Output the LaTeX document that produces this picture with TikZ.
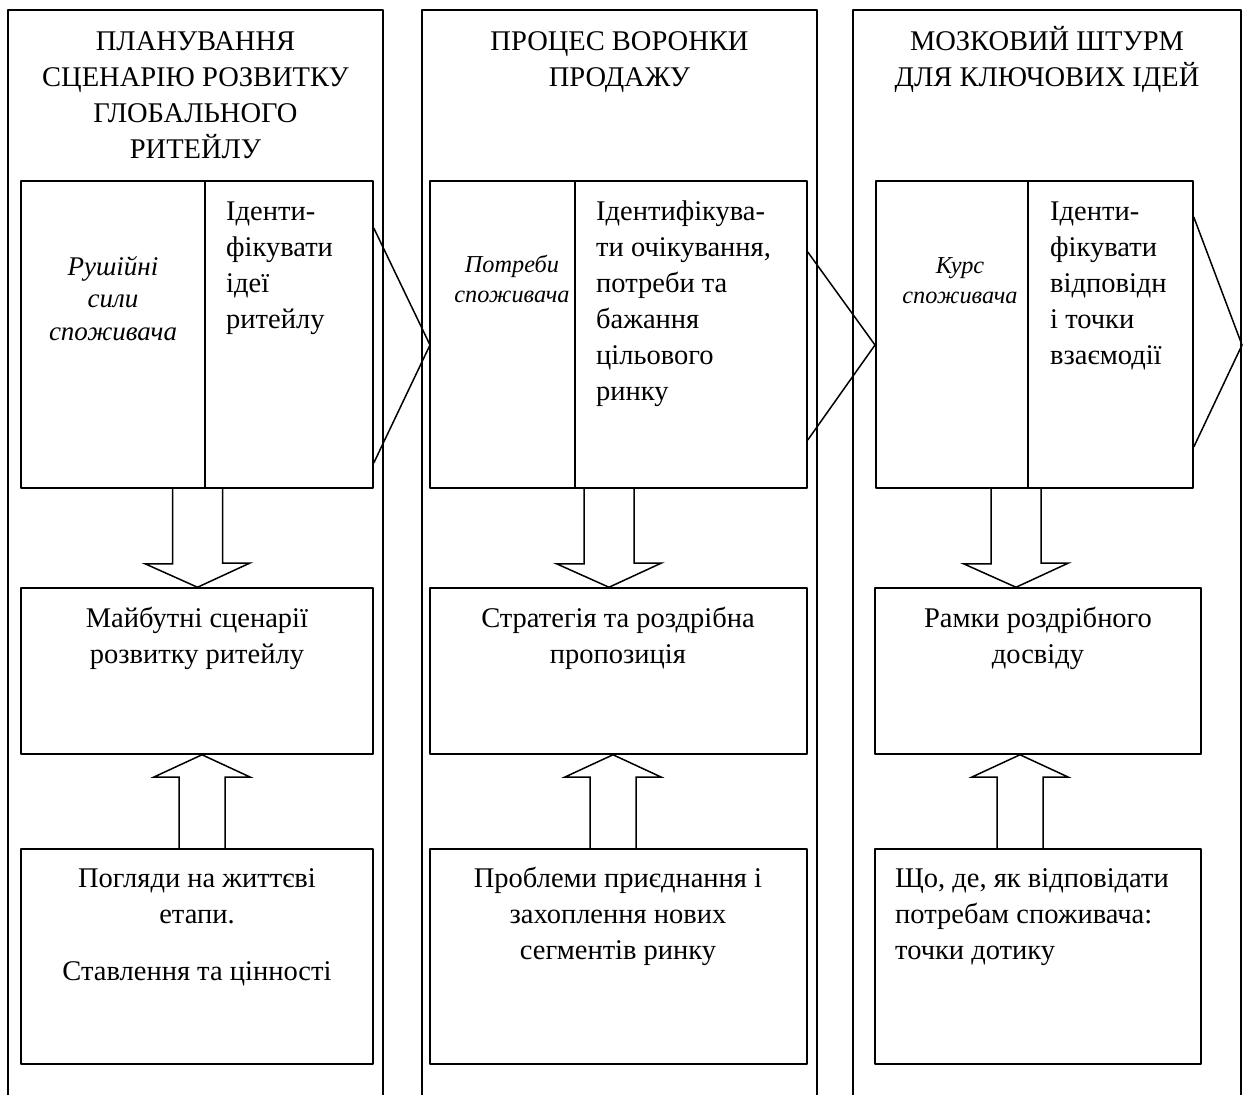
\documentclass[tikz,border=0pt]{standalone}
\usepackage{fontspec}
\setmainfont{Liberation Serif}
\usetikzlibrary{positioning}
\newcommand{\lnstrut}{\rule{0pt}{30pt}}
\tikzset{
	box/.style={draw, line width=1.5pt, inner sep=0pt},
	blk/.style={line width=1.5pt, line join=miter},
	txt/.style={font=\fontsize{28.5}{36}\selectfont, inner sep=0pt, align=center, anchor=north},
	ltxt/.style={txt, align=left, anchor=north west},
	itxt/.style={inner sep=0pt, align=center, anchor=north}
}
\begin{document}
\begin{tikzpicture}[x=1pt,y=-1pt, line join=round]
	\useasboundingbox (0,0) rectangle (1243,1095);
	\def\ytop{10} \def\ybot{1096}
	
	% стовпці
	\foreach \l/\r in {8/383, 422/817, 853/1241}
		\draw[line width=1.5pt] (\l,\ybot) -- (\l,\ytop) -- (\r,\ytop) -- (\r,\ybot);
	
	\node[txt] (h1) at (195.5,20) {\lnstrut ПЛАНУВАННЯ\\СЦЕНАРІЮ РОЗВИТКУ\\ГЛОБАЛЬНОГО\\РИТЕЙЛУ};
	\node[txt] (h2) at (619.5,20) {\lnstrut ПРОЦЕС ВОРОНКИ\\ПРОДАЖУ};
	\node[txt] (h3) at (1047,20) {\lnstrut МОЗКОВИЙ ШТУРМ\\ДЛЯ КЛЮЧОВИХ ІДЕЙ};
	
	% верхні блоки
	\node[box, minimum width=352pt, minimum height=307pt] (t1) at (197,334.5) {};
	\node[box, minimum width=377pt, minimum height=307pt] (t2) at (618.5,334.5) {};
	\node[box, minimum width=317pt, minimum height=307pt] (t3) at (1034.5,334.5) {};
	\foreach \b/\x in {t1/205, t2/575, t3/1028}
		\draw[line width=1.5pt] (\x,0 |- \b.north) -- (\x,0 |- \b.south);
	
	\node[itxt, font=\fontsize{27}{32.5}\selectfont\itshape] (k1) at (113,245) {\lnstrut Рушійні\\сили\\споживача};
	\node[itxt, font=\fontsize{24.3}{30}\selectfont\itshape] (k2) at (512,242) {\lnstrut Потреби\\споживача};
	\node[itxt, font=\fontsize{24.3}{30}\selectfont\itshape] (k3) at (960,243) {\lnstrut Курс\\споживача};
	
	\node[ltxt] (i1) at (226,190) {\lnstrut Іденти-\\фікувати\\ідеї\\ритейлу};
	\node[ltxt] (i2) at (596,190) {\lnstrut Ідентифікува-\\ти очікування,\\потреби та\\бажання\\цільового\\ринку};
	\node[ltxt] (i3) at (1050,190) {\lnstrut Іденти-\\фікувати\\відповідн\\і точки\\взаємодії};
	
	% шеврони
	\draw[blk] (t1.east |- 0,228) -- (430,345) -- (t1.east |- 0,463);
	\draw[blk] (t2.east |- 0,252) -- (875,345) -- (t2.east |- 0,440);
	\draw[blk] (t3.east |- 0,217) -- (1242,345) -- (t3.east |- 0,447);
	
	% середні блоки
	\node[box, minimum width=352pt, minimum height=166pt] (m1) at (197,671) {};
	\node[box, minimum width=377pt, minimum height=166pt] (m2) at (618.5,671) {};
	\node[box, minimum width=326pt, minimum height=166pt] (m3) at (1038,671) {};
	\node[txt] (s1) at (197,597) {\lnstrut Майбутні сценарії\\розвитку ритейлу};
	\node[txt] (s2) at (618,597) {\lnstrut Стратегія та роздрібна\\пропозиція};
	\node[txt] (s3) at (1038,597) {\lnstrut Рамки роздрібного\\досвіду};
	
	% нижні блоки
	\node[box, minimum width=352pt, minimum height=215pt] (b1) at (197,956.5) {};
	\node[box, minimum width=377pt, minimum height=215pt] (b2) at (618.5,956.5) {};
	\node[box, minimum width=326pt, minimum height=215pt] (b3) at (1038,956.5) {};
	\node[txt] (p1) at (197,857) {\lnstrut Погляди на життєві\\етапи.\\[21pt]Ставлення та цінності};
	\node[txt] (p2) at (618,857) {\lnstrut Проблеми приєднання і\\захоплення нових\\сегментів ринку};
	\node[ltxt] (p3) at (895,857) {\lnstrut Що, де, як відповідати\\потребам споживача:\\точки дотику};
	
	% стрілки вниз
	\foreach \u/\v/\x in {t1/m1/197.5, t2/m2/609, t3/m3/1016}
		\draw[blk] (\x-25,0 |- \u.south) -- ++(0,75) -- ++(-27.5,0) -- (\x,0 |- \v.north)
			-- (\x+52.5,563) -- (\x+25,563) -- (\x+25,0 |- \u.south);
	% стрілки вгору
	\foreach \u/\v/\x in {b1/m1/202, b2/m2/613, b3/m3/1020}
		\draw[blk] (\x-23,0 |- \u.north) -- (\x-23,777) -- (\x-48,777) -- (\x,0 |- \v.south)
			-- (\x+48,777) -- (\x+23,777) -- (\x+23,0 |- \u.north);
\end{tikzpicture}
\end{document}
